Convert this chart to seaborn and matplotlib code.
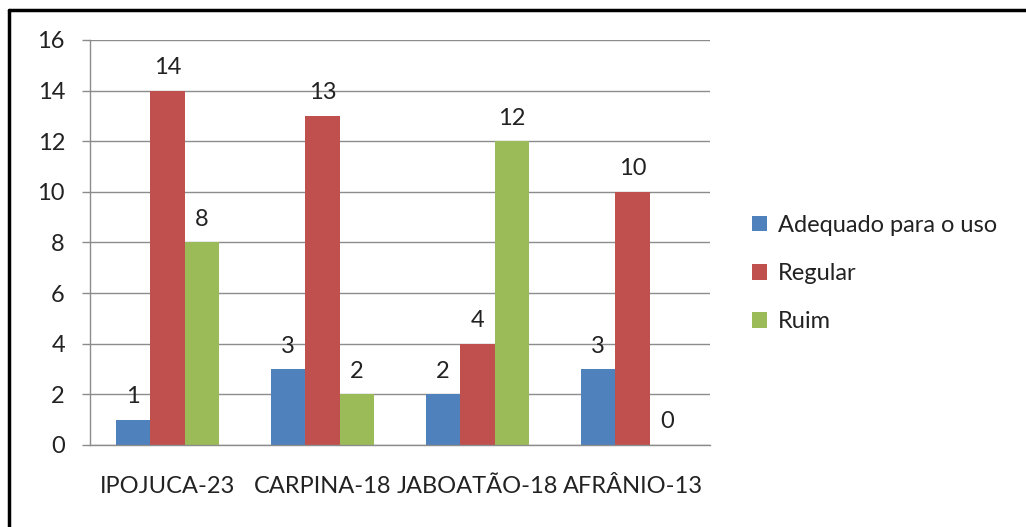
import pandas as pd
import numpy as np
import matplotlib.pyplot as plt
import seaborn as sns
from matplotlib.lines import Line2D
from matplotlib.patches import Patch

# =========================
# DADOS
# =========================

municipios = ["IPOJUCA-23", "CARPINA-18", "JABOATÃO-18", "AFRÂNIO-13"]
categorias = ["Adequado para o uso", "Regular", "Ruim"]

adequado = [1, 3, 2, 3]
regular = [14, 13, 4, 10]
ruim = [8, 2, 12, 0]

cores = ["#4F81BD", "#C0504D", "#9BBB59"]

df = pd.DataFrame({
    "municipio": municipios * 3,
    "estado": np.repeat(categorias, len(municipios)),
    "valor": adequado + regular + ruim,
})

# =========================
# GRAFICO
# =========================

sns.set_style("white")
plt.rcParams["font.family"] = ["Lato", "DejaVu Sans"]

fs = 17

fig = plt.figure(figsize=(10.26, 5.27), dpi=100)
ax = fig.add_axes([0.0877, 0.1556, 0.6043, 0.7685])

sns.barplot(
    data=df,
    x="municipio",
    y="valor",
    hue="estado",
    order=municipios,
    hue_order=categorias,
    palette=cores,
    width=0.665,
    gap=0,
    linewidth=0,
    saturation=1,
    legend=False,
    ax=ax
)

for cont in ax.containers:
    ax.bar_label(cont, padding=9, fontsize=fs, color="#222222")

ax.set_xlim(-0.5, 3.5)
ax.set_ylim(0, 16)
ax.set_yticks(range(0, 17, 2))
ax.yaxis.grid(True, color="#8c8c8c", linewidth=1)
ax.set_axisbelow(True)

ax.set_xlabel("")
ax.set_ylabel("")

for lado in ["top", "right"]:
    ax.spines[lado].set_visible(False)
for lado in ["left", "bottom"]:
    ax.spines[lado].set_color("#8c8c8c")
    ax.spines[lado].set_linewidth(1)

ax.set_xticks(range(len(municipios)))
ax.set_xticklabels(municipios)
ax.set_xticks(np.arange(-0.5, 4, 1), minor=True)
ax.tick_params(axis="x", which="major", length=0, pad=22,
               labelsize=fs, labelcolor="#222222")
ax.tick_params(axis="x", which="minor", length=6, width=1,
               color="#8c8c8c", direction="out")
ax.tick_params(axis="y", length=6, width=1, color="#8c8c8c",
               direction="out", left=True, pad=12,
               labelsize=fs, labelcolor="#222222")

handles = [Patch(facecolor=c, edgecolor="none") for c in cores]
fig.legend(
    handles,
    categorias,
    loc="center left",
    bbox_to_anchor=(0.721, 0.481),
    frameon=False,
    borderpad=0,
    fontsize=fs,
    handlelength=0.65,
    handleheight=0.65,
    handletextpad=0.45,
    labelspacing=1.15,
    labelcolor="#222222"
)

# moldura
fig.add_artist(Line2D([9 / 1026, 9 / 1026], [0, 1 - 10 / 527],
                      transform=fig.transFigure, color="black", linewidth=2.5))
fig.add_artist(Line2D([9 / 1026, 1], [1 - 10 / 527, 1 - 10 / 527],
                      transform=fig.transFigure, color="black", linewidth=2.5))

fig.savefig("out.png", dpi=100)
